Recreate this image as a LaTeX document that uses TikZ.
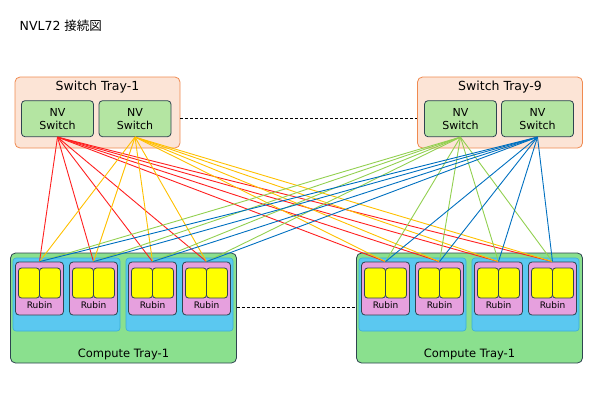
\documentclass[tikz,border=0pt]{standalone}
\usepackage{fontspec}
\setmainfont{DejaVu Sans}
\newfontfamily\jpfont{Noto Sans CJK JP}
\definecolor{trayfill}{HTML}{FCE4D6}
\definecolor{trayline}{HTML}{F08A50}
\definecolor{nvfill}{HTML}{B4E5A2}
\definecolor{darkline}{HTML}{2E4450}
\definecolor{ctfill}{HTML}{8AE08E}
\definecolor{bluefill}{HTML}{5BC8F0}
\definecolor{blueline}{HTML}{3AAFD8}
\definecolor{pinkfill}{HTML}{E6A0DE}
\definecolor{yel}{HTML}{FFFF00}
\definecolor{cred}{HTML}{FF2020}
\definecolor{cgold}{HTML}{FFC000}
\definecolor{cgreen}{HTML}{92D050}
\definecolor{cblue}{HTML}{0070C0}
\begin{document}
\begin{tikzpicture}[x=1pt,y=-1pt,
  tray/.style={draw=trayline, fill=trayfill, rounded corners=5pt, line width=0.8pt, minimum width=165pt, minimum height=71pt, inner sep=0pt},
  nvs/.style={draw=darkline, fill=nvfill, rounded corners=3.5pt, line width=0.8pt, minimum width=72pt, minimum height=36pt, inner sep=0pt, align=center, font=\fontsize{11}{13}\selectfont},
  ctray/.style={draw=darkline, fill=ctfill, rounded corners=5pt, line width=0.8pt, minimum width=226pt, minimum height=110pt, inner sep=0pt},
  bbox/.style={draw=blueline, fill=bluefill, rounded corners=3pt, line width=0.6pt, minimum width=107pt, minimum height=73pt, inner sep=0pt},
  pbox/.style={draw=darkline, fill=pinkfill, rounded corners=3.5pt, line width=0.8pt, minimum width=48pt, minimum height=53pt, inner sep=0pt},
  ybox/.style={draw=darkline, fill=yel, rounded corners=3pt, line width=0.8pt, minimum width=21pt, minimum height=30pt, inner sep=0pt},
  lbl/.style={inner sep=0pt},
  link/.style={line width=0.9pt}
]
\useasboundingbox (0,0) rectangle (600,400);

\node[lbl, anchor=west, font=\fontsize{12.5}{14}\selectfont] (title) at (19.5,26) {NVL72 {\jpfont 接続図}};

% switch trays
\node[tray] (st1) at (97.5,112.5) {};
\node[lbl, font=\fontsize{12.5}{14}\selectfont] (st1t) at (97.5,87.5) {Switch Tray-1};
\node[nvs] (s1a) at (57.5,118.7) {NV\\Switch};
\node[nvs] (s1b) at (135,118.7) {NV\\Switch};

\node[tray] (st9) at (500,112.5) {};
\node[lbl, font=\fontsize{12.5}{14}\selectfont] (st9t) at (500,87.5) {Switch Tray-9};
\node[nvs] (s9a) at (460.5,118.7) {NV\\Switch};
\node[nvs] (s9b) at (537.5,118.7) {NV\\Switch};

\draw[dashed, dash pattern=on 3pt off 2pt, line width=0.7pt] (st1.east |- s1b.east) -- (st9.west |- s9a.west);

% compute trays
\node[ctray] (ct1) at (123.5,308) {};
\node[ctray] (ct2) at (469.5,308) {};
\node[lbl, font=\fontsize{11.5}{14}\selectfont] (ct1t) at (123.5,354) {Compute Tray-1};
\node[lbl, font=\fontsize{11.5}{14}\selectfont] (ct2t) at (469.5,354) {Compute Tray-1};

\foreach \n/\x in {b1/66.5, b2/179.5, b3/412.5, b4/525.5}
  \node[bbox] (\n) at (\x,294.5) {};

\foreach \n/\x in {r1/39.5, r2/93.5, r3/152.5, r4/206.5, r5/385.5, r6/439.5, r7/498.5, r8/552.5} {
  \node[pbox] (\n) at (\x,288.5) {};
  \node[ybox] (\n ya) at (\x-10.5,283) {};
  \node[ybox] (\n yb) at (\x+10.5,283) {};
  \node[lbl, font=\fontsize{9}{10}\selectfont] (\n t) at (\x,305) {Rubin};
}

\draw[dashed, dash pattern=on 3pt off 2pt, line width=0.7pt] (ct1.east |- 0,307) -- (ct2.west |- 0,307);

% links
\foreach \s/\c in {s1a/cred, s1b/cgold, s9a/cgreen, s9b/cblue}
  \foreach \r in {r1,r2,r3,r4,r5,r6,r7,r8}
    \draw[link, \c] (\s.south) -- (\r.north);
\end{tikzpicture}
\end{document}
